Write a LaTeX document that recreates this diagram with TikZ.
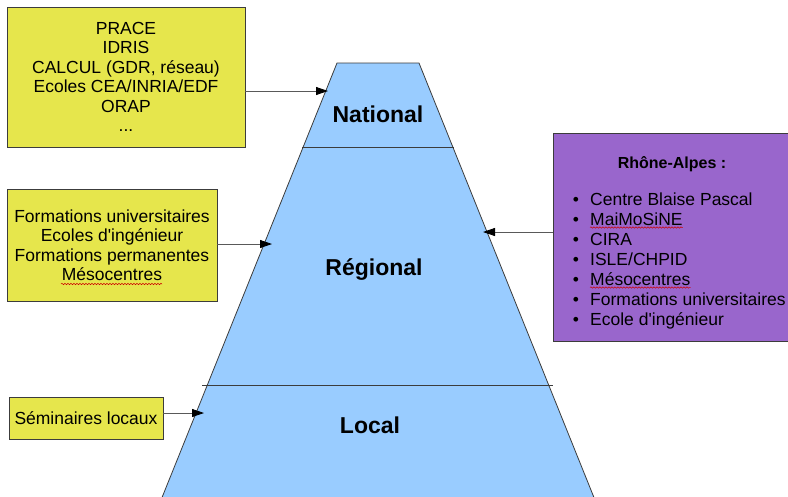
\documentclass[tikz,border=0pt]{standalone}
\usepackage{fontspec}
\setmainfont{Liberation Sans}[Ligatures=TeXOff]
\usetikzlibrary{arrows.meta,decorations.pathmorphing}

\definecolor{boxyellow}{HTML}{E6E64C}
\definecolor{boxpurple}{HTML}{9966CC}
\definecolor{pyrblue}{HTML}{99CCFF}
\definecolor{edgegray}{HTML}{3C3C3C}

\tikzset{
  box/.style={draw=edgegray, line width=0.8pt, fill=boxyellow, align=center, inner sep=0pt,
    font=\fontsize{17.5}{19.5}\selectfont},
  level/.style={anchor=base, font=\fontsize{23}{26}\selectfont\bfseries},
  item/.style={anchor=base west, inner sep=0pt, font=\fontsize{17.5}{19.5}\selectfont},
  bulletdot/.style={anchor=base, inner sep=0pt, font=\fontsize{17.5}{19.5}\selectfont},
  link/.style={draw=black!65, line width=0.8pt, -{Triangle[length=12pt,width=8pt,color=black]}},
  squiggle/.style={red!80!black, line width=0.5pt, decorate,
    decoration={snake, amplitude=0.7pt, segment length=3pt}}
}

\begin{document}
\begin{tikzpicture}[x=1pt,y=-1pt]
  \useasboundingbox (0,0) rectangle (788,496);
  \clip (0,0) rectangle (788,496);

  \coordinate (tl) at (337,63);
  \coordinate (tr) at (419,63);
  \coordinate (br) at (597,505);
  \coordinate (bl) at (159,505);
  \draw[edgegray, line width=0.8pt, fill=pyrblue] (tl) -- (tr) -- (br) -- (bl) -- cycle;
  \draw[edgegray, line width=0.8pt] (302,147) -- (454,147);
  \draw[edgegray, line width=0.8pt] (202,385) -- (553,385);

  \node[level] (national) at (378,122) {National};
  \node[level] (regional) at (374,275) {Régional};
  \node[level] (local) at (370,433) {Local};

  \node[box, minimum width=238, minimum height=140] (nat) at (126,77)
    {PRACE\\IDRIS\\CALCUL (GDR, réseau)\\Ecoles CEA/INRIA/EDF\\ORAP\\...};
  \node[box, minimum width=210, minimum height=112] (reg) at (112,245)
    {Formations universitaires\\Ecoles d'ingénieur\\Formations permanentes\\Mésocentres};
  \node[box, minimum width=154, minimum height=42] (loc) at (86,418) {Séminaires locaux};
  \draw[squiggle] (61,284) -- (162,284);

  \node[box, fill=boxpurple, minimum width=250, minimum height=208, anchor=north west] (rhone) at (553,133) {};
  \node[anchor=base, font=\fontsize{16}{19}\selectfont\bfseries] (rhonetitle) at (672,168) {Rhône-Alpes :};
  \foreach [count=\i] \entry in {Centre Blaise Pascal, MaiMoSiNE, CIRA, ISLE/CHPID,
      Mésocentres, Formations universitaires, Ecole d'ingénieur} {
    \node[bulletdot] (dot\i) at (576,185+20*\i) {•};
    \node[item] (item\i) at (590,185+20*\i) {\entry};
  }
  \draw[squiggle] ([yshift=-2.5pt]item2.base west) -- ([yshift=-2.5pt]item2.base east);
  \draw[squiggle] ([yshift=-2.5pt]item5.base west) -- ([yshift=-2.5pt]item5.base east);

  \coordinate (natin) at (328,91);
  \coordinate (regin) at (272,244);
  \coordinate (locin) at (204,413);
  \coordinate (rhonein) at (483,232);
  \draw[link] (nat.east |- natin) -- (natin);
  \draw[link] (reg.east |- regin) -- (regin);
  \draw[link] (loc.east |- locin) -- (locin);
  \draw[link] (rhone.west |- rhonein) -- (rhonein);
\end{tikzpicture}
\end{document}
